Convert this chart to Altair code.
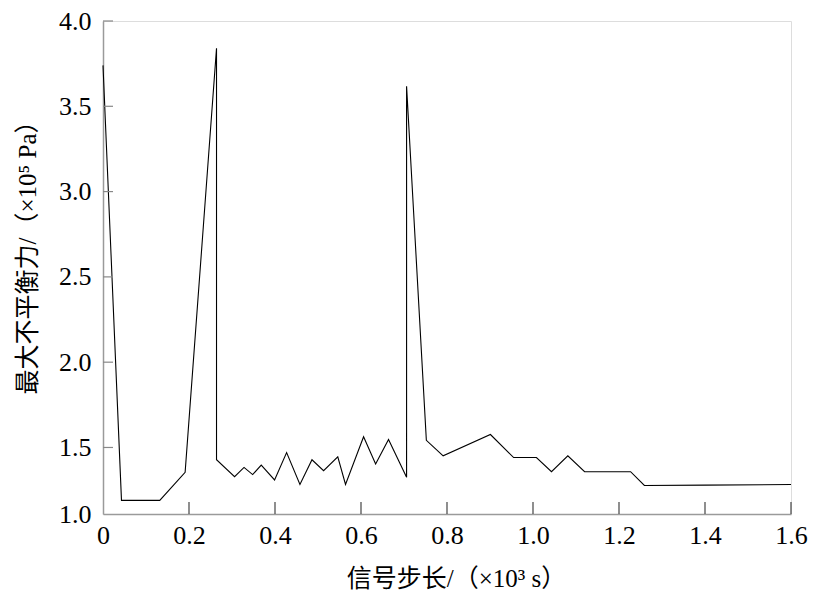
import altair as alt
import pandas as pd

# data
x_vals = [0.0, 0.043, 0.132, 0.191, 0.264, 0.264, 0.306, 0.328, 0.348, 0.368,
          0.399, 0.427, 0.458, 0.486, 0.513, 0.546, 0.564, 0.606, 0.634, 0.664,
          0.706, 0.706, 0.752, 0.791, 0.901, 0.955, 1.008, 1.043, 1.081, 1.120,
          1.227, 1.259, 1.40, 1.60]
y_vals = [3.74, 1.19, 1.19, 1.354, 3.84, 1.428, 1.329, 1.383, 1.341, 1.397,
          1.310, 1.470, 1.283, 1.428, 1.364, 1.445, 1.283, 1.563, 1.403, 1.547,
          1.325, 3.618, 1.542, 1.451, 1.576, 1.441, 1.441, 1.358, 1.451, 1.358,
          1.358, 1.277, 1.279, 1.283]

x_label_vals = [0.0, 0.2, 0.4, 0.6, 0.8, 1.0, 1.2, 1.4, 1.6]
x_tick_vals = [0.2, 0.4, 0.6, 0.8, 1.0, 1.2, 1.4, 1.6]
y_label_vals = [1.11, 1.5, 2.0, 2.5, 3.0, 3.5, 4.0]
y_tick_vals = [1.5, 2.0, 2.5, 3.0, 3.5, 4.0]

x_title = "信号步长/（×10³ s）"
y_title = "最大不平衡力/（×10⁵ Pa）"

W, H = 688, 493
FONT = "Liberation Serif, Noto Sans CJK SC"

df = pd.DataFrame({"x": x_vals, "y": y_vals, "i": list(range(len(x_vals)))})
xs = alt.Scale(domain=[0, 1.6], nice=False, zero=False)
ys = alt.Scale(domain=[1.11, 4.0], nice=False, zero=False)

line = alt.Chart(df).mark_line(color="black", strokeWidth=1.1).encode(
    x=alt.X("x:Q", scale=xs, axis=alt.Axis(
        values=x_label_vals, labelExpr="datum.value == 0 ? '0' : format(datum.value, '.1f')",
        ticks=False, grid=False, domainColor="#9a9a9a", domainWidth=1.5,
        labelFont=FONT, labelFontSize=26, labelColor="black", labelPadding=8,
        labelOverlap=False, labelFlush=False,
        title=x_title, titleFont=FONT, titleFontSize=25, titleFontWeight="normal",
        titleColor="black", titleX=353, titleY=64, titleBaseline="middle", titleAlign="center")),
    y=alt.Y("y:Q", scale=ys, axis=alt.Axis(
        values=y_label_vals, labelExpr="datum.value < 1.2 ? '1.0' : format(datum.value, '.1f')",
        ticks=False, grid=False, domainColor="#9a9a9a", domainWidth=1.5,
        labelFont=FONT, labelFontSize=26, labelColor="black", labelPadding=12,
        labelOverlap=False, labelFlush=False,
        title=y_title, titleFont=FONT, titleFontSize=25, titleFontWeight="normal",
        titleColor="black", titleX=-76, titleY=230, titleAngle=-90,
        titleBaseline="middle", titleAlign="center")),
    order="i:Q",
)

xt = alt.Chart(pd.DataFrame({"t": x_tick_vals})).mark_rule(color="#444", strokeWidth=1.2).encode(
    x=alt.X("t:Q", scale=xs), y=alt.value(H), y2=alt.value(H - 12))
yt = alt.Chart(pd.DataFrame({"t": y_tick_vals})).mark_rule(color="#888", strokeWidth=1.2).encode(
    y=alt.Y("t:Q", scale=ys), x=alt.value(0), x2=alt.value(10))

chart = alt.layer(line, xt, yt).properties(
    width=W, height=H,
    autosize=alt.AutoSizeParams(type="none"),
    padding={"left": 95, "top": 13, "right": 18, "bottom": 78},
).configure_view(stroke=None).configure(background="white")

chart.save("out.html", embed_options={"renderer": "svg", "actions": False})
